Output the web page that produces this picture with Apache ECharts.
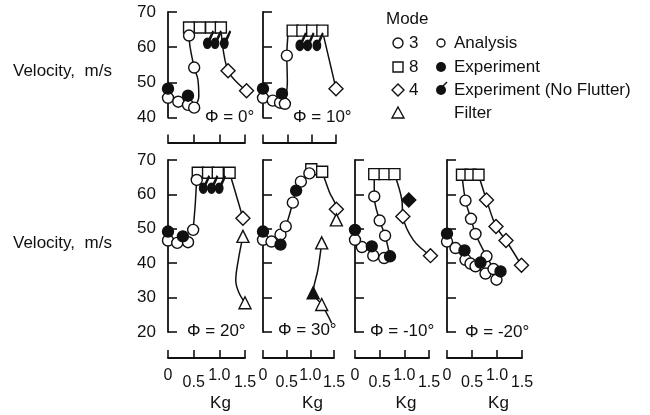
<!DOCTYPE html>
<html>
<head>
<meta charset="utf-8">
<script src="https://cdn.jsdelivr.net/npm/echarts@6/dist/echarts.min.js"></script>
</head>
<body style="margin:0;background:#fff">
<div id="main" style="width:650px;height:415px"></div>
<script>
// panel order: 0 = phi 0, 1 = phi 10 (top row); 2..5 = phi 20, 30, -10, -20 (bottom row)
var panelTitles = ['\u03a6 = 0\u00b0', '\u03a6 = 10\u00b0', '\u03a6 = 20\u00b0', '\u03a6 = 30\u00b0', '\u03a6 = -10\u00b0', '\u03a6 = -20\u00b0'];
var xTickLabels = ['0', '0.5', '1.0', '1.5'];
var yTitle = 'Velocity,  m/s';
var xTitle = 'Kg';
var modeLabels = ['3', '8', '4'];
var typeLabels = ['Analysis', 'Experiment', 'Experiment (No Flutter)', 'Filter'];

// open circles (analysis)
var analysis = [
  [[0,45.6],[0.2,44.5],[0.39,43.6],[0.51,42.8],[0.51,54.2],[0.41,63.3]],
  [[0,45.6],[0.2,44.8],[0.35,44.2],[0.45,43.9],[0.49,57.6]],
  [[0,46.6],[0.18,45.9],[0.39,46.1],[0.49,49.7],[0.56,64.2]],
  [[0,46.8],[0.18,46.3],[0.37,48.3],[0.48,50.7],[0.63,57.6],[0.8,63.7],[0.98,66.1]],
  [[0.39,59.4],[0.5,52.4],[0.61,48],[0.59,41.5],[0.37,42.2],[0.14,44.7],[0,46.8]],
  [[0.37,58.2],[0.48,52.9],[0.57,48.5],[0,46.3],[0.17,44.4],[0.37,41],[0.47,39.9],[0.57,39.1],[0.79,42],[0.77,37],[0.93,38.3],[0.99,35.2]]
];
// filled circles (experiment)
var experiment = [
  [[0,48.2],[0.39,46.2]],
  [[0,48.2],[0.39,46.8]],
  [[0,49.2],[0.29,47.8]],
  [[0,49.2],[0.37,45.4],[0.7,61.1]],
  [[0,49.7],[0.34,44.9],[0.71,42]],
  [[0,48.6],[0.35,43.7],[0.67,40.2],[1.07,37.6]]
];
// filled circles with tick (experiment, no flutter)
var noFlutter = [
  [[0.76,61.1],[0.91,61.1],[1.09,61.1]],
  [[0.75,60.5],[0.91,60.5],[1.1,60.5]],
  [[0.68,61.8],[0.84,61.8],[0.99,61.8]],
  [], [], []
];
// mode 8 squares
var mode8 = [
  [[0.41,65.6],[0.62,65.6],[0.84,65.6],[1.03,65.6]],
  [[0.61,64.7],[0.81,64.7],[1.01,64.7],[1.22,64.7]],
  [[0.58,66.3],[0.78,66.3],[0.97,66.3],[1.2,66.3]],
  [[1.02,67.3],[1.25,66.6]],
  [[0.39,65.9],[0.6,65.9],[0.8,65.9]],
  [[0.3,65.7],[0.47,65.7],[0.63,65.7]]
];
// mode 4 diamonds
var mode4 = [
  [[1.17,53.3],[1.53,47.6]],
  [[1.5,48.2]],
  [[1.46,53.1]],
  [[1.55,55.7]],
  [[0.97,53.6],[1.53,42.2]],
  [[0.79,58.4],[0.98,50.7],[1.18,46.6],[1.49,39.4]]
];
var mode4Exp = [[], [], [], [], [[1.09,58.4]], []];
// filter triangles
var filter = [[], [], [[1.46,47.8],[1.5,28.5]], [[1.55,52.6],[1.24,45.9],[1.24,28]], [], []];
var filterExp = [[], [], [], [[1.06,31.4]], [], []];
// faired curves
var curves = [
  [[[0.51,42.8],[0.6,46],[0.58,51],[0.51,54.2],[0.41,63.3],[0.41,65.6]], [[1.03,65.6],[1.17,53.3],[1.53,47.6]]],
  [[[0.45,43.9],[0.5,50],[0.49,57.6],[0.52,64.7]], [[1.22,64.7],[1.5,48.2]]],
  [[[0.49,49.7],[0.53,57],[0.56,64.2],[0.58,66.3]], [[1.2,66.3],[1.3,61.3],[1.46,53.1]], [[1.46,47.8],[1.37,41],[1.32,35],[1.38,31.5],[1.5,28.5]]],
  [[[0.37,45.4],[0.37,48.3],[0.48,50.7],[0.63,57.6],[0.7,61.1],[0.8,63.7],[0.98,66.1],[1.02,67.3]], [[1.25,66.6],[1.4,60.8],[1.55,55.7],[1.55,52.6]], [[1.24,45.9],[1.16,38.1],[1.06,31.4],[1.24,28],[1.45,22.6]]],
  [[[0.39,65.9],[0.39,59.4],[0.5,52.4],[0.61,48],[0.71,42]], [[0.8,65.9],[0.95,58.4],[0.97,53.6],[1.18,46.8],[1.53,42.2]]],
  [[[0.3,65.7],[0.37,58.2],[0.48,52.9],[0.57,48.5],[0.79,42],[0.93,38.3],[0.99,35.2]], [[0.17,44.4],[0.37,41],[0.57,39.1],[0.77,37]], [[0.63,65.7],[0.79,58.4],[0.98,50.7],[1.18,46.6],[1.49,39.4]]]
];

var ink = '#111';
var font = "'Liberation Sans', Arial, sans-serif";
// grid boxes [left, top, width, height], y range
var boxes = [
  [168, 12, 77, 105.5, 40], [263, 12, 73, 105.5, 40],
  [168, 160, 77, 172, 20], [263, 160, 71, 172, 20], [355, 160, 74, 172, 20], [447, 160, 75, 172, 20]
];
var titlePos = [[205, 109], [293, 109], [187, 323], [278, 322], [370, 323], [465, 324]];
// filled circle with a tick going up-right
var noFlutterPath = 'path://M0,12 A5,5 0 1,1 10,12 A5,5 0 1,1 0,12 Z M7,8 L12,0 L13,0.7 L8.6,8.6 Z';

var grids = [], xAxes = [], yAxes = [], series = [], titles = [];
boxes.forEach(function (b, i) {
  var bottomRow = i >= 2;
  grids.push({left: b[0], top: b[1], width: b[2], height: b[3]});
  yAxes.push({
    gridIndex: i, min: b[4], max: 70, interval: 10,
    axisLine: {show: true, lineStyle: {color: ink, width: 1.8}},
    axisTick: {show: true, inside: true, length: 9, lineStyle: {color: ink, width: 1.6}},
    axisLabel: {show: i === 0 || i === 2, color: ink, fontSize: 17, fontFamily: font, margin: 12},
    splitLine: {show: false}
  });
  xAxes.push({
    gridIndex: i, type: 'value', min: 0, max: 1.5, interval: 0.5, position: 'bottom',
    offset: bottomRow ? 26 : 25,
    axisLine: {show: true, onZero: false, lineStyle: {color: ink, width: 1.8}},
    axisTick: {show: true, inside: true, length: 8, lineStyle: {color: ink, width: 1.6}},
    axisLabel: {
      show: bottomRow, margin: 10, color: ink, fontFamily: font,
      formatter: function (v) {
        var k = Math.round(v / 0.5);
        return (k % 2 === 0 ? '{a|' : '{b|') + xTickLabels[k] + '}';
      },
      rich: {
        a: {fontSize: 16, fontFamily: font, color: ink},
        b: {fontSize: 16, fontFamily: font, color: ink, padding: [7, 0, 0, 0]}
      }
    },
    name: bottomRow ? xTitle : '', nameLocation: 'middle', nameGap: 37,
    nameTextStyle: {fontSize: 17, fontFamily: font, color: ink, padding: [0, 0, 0, 28]},
    splitLine: {show: false}
  });
  titles.push({text: panelTitles[i], left: titlePos[i][0], top: titlePos[i][1], padding: 0,
    textStyle: {fontSize: 17, fontWeight: 'normal', fontFamily: font, color: ink}});

  curves[i].forEach(function (c) {
    series.push({type: 'line', xAxisIndex: i, yAxisIndex: i, data: c, smooth: 0.35,
      showSymbol: false, clip: false, z: 1, lineStyle: {color: ink, width: 1.5}, silent: true});
  });
  function pts(data, symbol, size, fill, extra) {
    var s = {type: 'scatter', xAxisIndex: i, yAxisIndex: i, data: data[i], symbol: symbol,
      symbolSize: size, clip: false, z: 3,
      itemStyle: {color: fill, borderColor: ink, borderWidth: 1.4, opacity: 1}};
    for (var k in extra) s[k] = extra[k];
    series.push(s);
  }
  pts(mode8, 'rect', 11, '#fff');
  pts(mode4, 'diamond', 14, '#fff');
  pts(mode4Exp, 'diamond', 14, ink);
  pts(filter, 'triangle', 12, '#fff');
  pts(filterExp, 'triangle', 12, ink);
  pts(analysis, 'circle', 11, '#fff');
  pts(experiment, 'circle', 11, ink);
  pts(noFlutter, noFlutterPath, [13, 17], ink, {symbolKeepAspect: true, symbolOffset: [1.5, -3.5]});
});

titles.push({text: yTitle, left: 13, top: 63, padding: 0,
  textStyle: {fontSize: 17, fontWeight: 'normal', fontFamily: font, color: ink}});
titles.push({text: yTitle, left: 13, top: 235, padding: 0,
  textStyle: {fontSize: 17, fontWeight: 'normal', fontFamily: font, color: ink}});

// legend block
var rowY = [43, 67, 90, 113];
var txt = function (s, x, y) {
  return {type: 'text', x: x, y: y, style: {text: s, fill: ink, font: '17px ' + font, textVerticalAlign: 'middle'}};
};
var stroke = {fill: '#fff', stroke: ink, lineWidth: 1.4};
var legend = [txt('Mode', 386, 19)];
legend.push({type: 'circle', shape: {cx: 398, cy: rowY[0], r: 5}, style: stroke});
legend.push({type: 'rect', shape: {x: 393, y: rowY[1] - 5, width: 10, height: 10}, style: stroke});
legend.push({type: 'polygon', shape: {points: [[398, rowY[2] - 6], [404, rowY[2]], [398, rowY[2] + 6], [392, rowY[2]]]}, style: stroke});
legend.push({type: 'polygon', shape: {points: [[398, rowY[3] - 6], [404, rowY[3] + 5], [392, rowY[3] + 5]]}, style: stroke});
modeLabels.forEach(function (s, k) { legend.push(txt(s, 409, rowY[k])); });
legend.push({type: 'circle', shape: {cx: 441, cy: rowY[0], r: 4}, style: stroke});
legend.push({type: 'circle', shape: {cx: 441, cy: rowY[1], r: 5}, style: {fill: ink}});
legend.push({type: 'circle', shape: {cx: 441, cy: rowY[2], r: 5}, style: {fill: ink}});
legend.push({type: 'line', shape: {x1: 443, y1: rowY[2] - 4, x2: 447, y2: rowY[2] - 8}, style: {stroke: ink, lineWidth: 1.5}});
typeLabels.forEach(function (s, k) { legend.push(txt(s, 454, rowY[k])); });

var chart = echarts.init(document.getElementById('main'));
chart.setOption({
  backgroundColor: '#fff',
  animation: false,
  title: titles,
  grid: grids,
  xAxis: xAxes,
  yAxis: yAxes,
  series: series,
  graphic: legend
});
</script>
</body>
</html>
